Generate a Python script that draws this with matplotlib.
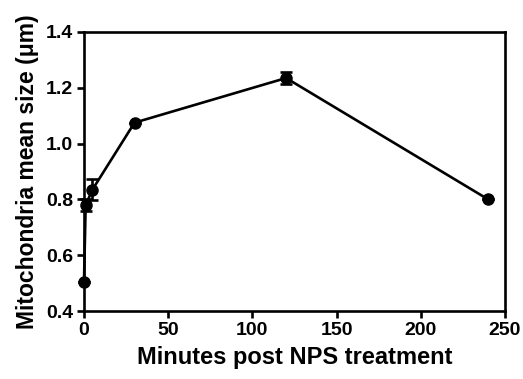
import numpy as np
import matplotlib
matplotlib.use("Agg")
import matplotlib.pyplot as plt

plt.rcParams['font.family'] = ['Liberation Sans', 'DejaVu Sans']
plt.rcParams['font.weight'] = 'bold'

# data
minutes = [0, 1, 5, 30, 120, 240]
mean_size = [0.505, 0.78, 0.835, 1.075, 1.235, 0.80]
sem = [0.0, 0.02, 0.037, 0.0, 0.02, 0.0]

xticks = [0, 50, 100, 150, 200, 250]
yticks = [0.4, 0.6, 0.8, 1.0, 1.2, 1.4]

fig = plt.figure(figsize=(5.23, 3.79), dpi=100)
ax = fig.add_axes([0.1606, 0.1794, 0.805, 0.7362])

ax.errorbar(minutes, mean_size, yerr=sem, color='black', lw=1.9,
            marker='o', markersize=8, capsize=4.5, capthick=1.9,
            elinewidth=1.9, clip_on=False, zorder=3)

ax.set_xlim(0, 250)
ax.set_ylim(0.4, 1.4)
ax.set_xticks(xticks)
ax.set_yticks(yticks)
ax.set_yticklabels([f'{v:.1f}' for v in yticks])

for s in ax.spines.values():
    s.set_linewidth(1.9)
ax.tick_params(width=1.9, length=5, labelsize=14, direction='out', pad=3)
for lab in ax.get_xticklabels() + ax.get_yticklabels():
    lab.set_fontweight('bold')

ax.set_xlabel('Minutes post NPS treatment', fontsize=17, fontweight='bold', labelpad=5)
ax.set_ylabel('Mitochondria mean size (\u03bcm)', fontsize=16.5, fontweight='bold', labelpad=5)

fig.savefig('out.png', dpi=100)
